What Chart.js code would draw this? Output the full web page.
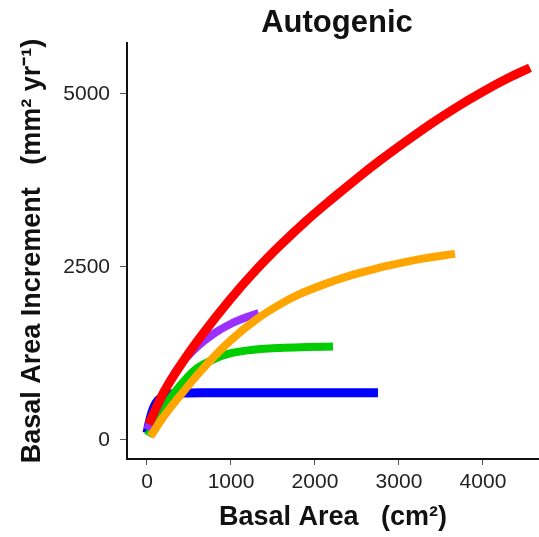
<!DOCTYPE html>
<html><head><meta charset="utf-8">
<script src="https://cdn.jsdelivr.net/npm/chart.js@4"></script>
<style>html,body{margin:0;padding:0;background:#fff;}</style>
</head><body>
<canvas id="c" width="539" height="537"></canvas>
<script>
const titleText = "Autogenic";
const xAxisTitle = "Basal Area   (cm²)";
const yAxisTitle = "Basal Area Increment   (mm² yr⁻¹)";
const xTickValues = [0, 1000, 2000, 3000, 4000];
const yTickValues = [0, 2500, 5000];

const blueX = [0, 40, 80, 130, 200, 300, 450, 700, 1500, 2750];
const blueY = [100, 320, 470, 570, 630, 665, 678, 682, 683, 683];

const greenX = [10, 150, 300, 476, 600, 800, 988, 1200, 1583, 1900, 2214];
const greenY = [60, 350, 640, 900, 1040, 1170, 1250, 1295, 1330, 1342, 1350];

const purpleX = [0, 100, 250, 400, 600, 800, 1000, 1200, 1330];
const purpleY = [150, 420, 800, 1090, 1350, 1540, 1680, 1780, 1835];

const redX = [20, 200, 393, 650, 988, 1300, 1583, 1900, 2179, 2500, 2774, 3100, 3369, 3700, 3964, 4300, 4560];
const redY = [230, 690, 1070, 1510, 2030, 2460, 2810, 3170, 3460, 3780, 4040, 4330, 4560, 4820, 5010, 5230, 5380];

const orangeX = [40, 200, 393, 650, 988, 1300, 1583, 1821, 2179, 2417, 2738, 3012, 3300, 3667];
const orangeY = [50, 340, 640, 1010, 1430, 1740, 1960, 2110, 2280, 2375, 2480, 2555, 2625, 2690];

const FONT = '"Liberation Sans", Arial, sans-serif';
const pts = (xs, ys) => xs.map((x, i) => ({x: x, y: ys[i]}));

const titlePlugin = {
  id: 'plotTitle',
  afterDraw(chart) {
    const ctx = chart.ctx, a = chart.chartArea;
    ctx.save();
    ctx.font = 'bold 31px ' + FONT;
    ctx.textAlign = 'center';
    ctx.textBaseline = 'alphabetic';
    ctx.fillStyle = '#111';
    ctx.fillText(titleText, (a.left + a.right) / 2 + 4, 32);
    ctx.restore();
  }
};

const ds = (label, xs, ys, color, w) => ({
  label: label, data: pts(xs, ys), borderColor: color, backgroundColor: color,
  borderWidth: w, showLine: true, pointRadius: 0, fill: false,
  cubicInterpolationMode: 'monotone', borderCapStyle: 'butt', borderJoinStyle: 'round'
});

new Chart(document.getElementById('c'), {
  type: 'scatter',
  data: {
    datasets: [
      ds('orange', orangeX, orangeY, '#FFA500', 8),
      ds('red', redX, redY, '#FF0000', 9),
      ds('purple', purpleX, purpleY, '#9B30FF', 8),
      ds('green', greenX, greenY, '#00CD00', 8),
      ds('blue', blueX, blueY, '#0000FF', 9)
    ]
  },
  options: {
    responsive: false,
    animation: false,
    devicePixelRatio: 1,
    layout: {padding: {top: 43, left: 0, right: 0, bottom: 0}},
    plugins: {legend: {display: false}, tooltip: {enabled: false}, title: {display: false}},
    scales: {
      x: {
        type: 'linear', min: -238, max: 4667,
        afterBuildTicks: s => { s.ticks = xTickValues.map(v => ({value: v})); },
        afterFit: s => { s.height = 78; },
        grid: {display: true, drawOnChartArea: false, drawTicks: true, tickLength: 6, color: '#555', lineWidth: 1},
        border: {display: true, color: '#111', width: 2},
        ticks: {font: {family: FONT, size: 21}, color: '#222', padding: 5, maxRotation: 0, autoSkip: false, callback: v => String(v)},
        title: {display: true, text: xAxisTitle, font: {family: FONT, size: 27, weight: 'bold'}, color: '#111', padding: {top: 0, bottom: 3}}
      },
      y: {
        type: 'linear', min: -275, max: 5737,
        afterBuildTicks: s => { s.ticks = yTickValues.map(v => ({value: v})); },
        afterFit: s => { s.width = 127; },
        grid: {display: true, drawOnChartArea: false, drawTicks: true, tickLength: 7, color: '#555', lineWidth: 1},
        border: {display: true, color: '#111', width: 2},
        ticks: {font: {family: FONT, size: 21}, color: '#222', padding: 10, autoSkip: false, callback: v => String(v)},
        title: {display: true, text: yAxisTitle, font: {family: FONT, size: 27, weight: 'bold'}, color: '#111', padding: {top: 16, bottom: 0}}
      }
    }
  },
  plugins: [titlePlugin]
});
</script>
</body></html>
